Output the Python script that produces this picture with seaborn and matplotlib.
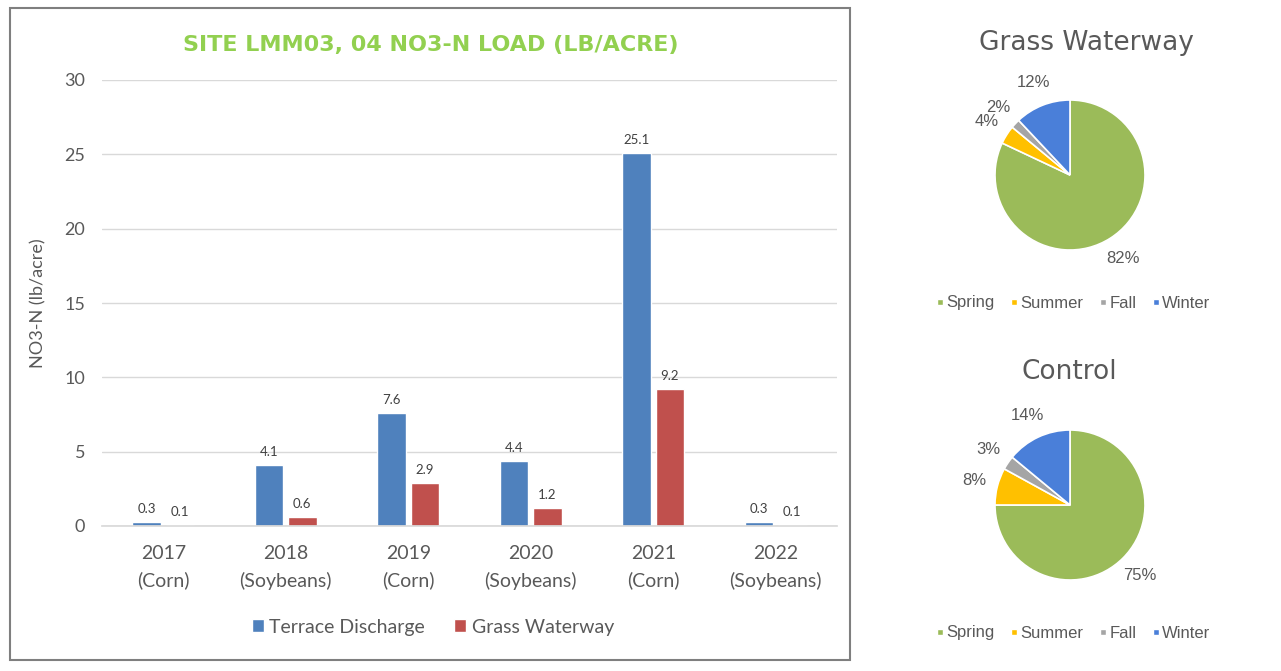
import matplotlib
matplotlib.use("Agg")
import matplotlib.pyplot as plt
import seaborn as sns
import pandas as pd
from matplotlib.patches import Rectangle, Patch
from matplotlib.lines import Line2D

years = ["2017\n(Corn)", "2018\n(Soybeans)", "2019\n(Corn)", "2020\n(Soybeans)", "2021\n(Corn)", "2022\n(Soybeans)"]
terrace = [0.3, 4.1, 7.6, 4.4, 25.1, 0.3]
grass = [0.1, 0.6, 2.9, 1.2, 9.2, 0.1]
series = ["Terrace Discharge", "Grass Waterway"]
yticks = [0, 5, 10, 15, 20, 25, 30]

seasons = ["Spring", "Summer", "Fall", "Winter"]
gw_share = [82, 4, 2, 12]
ctrl_share = [75, 8, 3, 14]

bar_colors = ["#4F81BD", "#C0504D"]
pie_colors = ["#9BBB59", "#FFC000", "#A5A5A5", "#4A7FD9"]

sns.set_theme(style="white")
plt.rcParams["font.family"] = ["Lato", "DejaVu Sans"]

W, H = 1281, 671
fig = plt.figure(figsize=(W / 100, H / 100), dpi=100)

def fx(x):
    return x / W

def fy(y):
    return 1 - y / H

# border box
fig.patches.append(Rectangle((fx(10), fy(660)), fx(850) - fx(10), fy(8) - fy(660),
                             transform=fig.transFigure, fill=False, edgecolor="#7F7F7F", lw=1.5))

df = pd.DataFrame({
    "year": years * 2,
    "value": terrace + grass,
    "series": [series[0]] * len(years) + [series[1]] * len(years),
})

ax = fig.add_axes([fx(102), fy(526), fx(837) - fx(102), fy(80) - fy(526)])
sns.barplot(data=df, x="year", y="value", hue="series", palette=bar_colors,
            width=0.54, gap=0.14, ax=ax, legend=False, saturation=1)
ax.set_xlim(-0.5, 5.5)
ax.set_ylim(0, 30)
ax.set_yticks(yticks)
ax.yaxis.grid(True, color="#D9D9D9", lw=1)
ax.set_axisbelow(True)
for s in ["top", "right", "left"]:
    ax.spines[s].set_visible(False)
ax.spines["bottom"].set_color("#D9D9D9")
ax.tick_params(axis="both", length=0, colors="#595959", labelsize=13)
ax.tick_params(axis="x", pad=14, labelsize=14)
ax.tick_params(axis="y", pad=12)
for t in ax.get_xticklabels():
    t.set_linespacing(1.6)
ax.set_xlabel("")
ax.set_ylabel("NO3-N (lb/acre)", color="#595959", fontsize=13)
ax.yaxis.set_label_coords(-0.075, 0.5)
for c in ax.containers:
    ax.bar_label(c, fmt="%.1f", padding=5, fontsize=9.5, color="#404040")

handles = [Patch(facecolor=bar_colors[i], label=series[i]) for i in range(2)]
fig.legend(handles=handles, loc="center", bbox_to_anchor=(fx(433), fy(627)), ncol=2,
           frameon=False, fontsize=14, handlelength=0.6, handleheight=0.6,
           handletextpad=0.3, columnspacing=1.5, labelcolor="#595959")

fig.text(fx(431), fy(45), "SITE LMM03, 04 NO3-N LOAD (LB/ACRE)", color="#92D050",
         fontsize=16, fontweight="bold", ha="center", va="center",
         family=["DejaVu Sans"])

def draw_pie(cx, cy, shares, title, title_x, title_y, legend_y):
    size = 187.5
    pax = fig.add_axes([fx(cx - size / 2), fy(cy + size / 2), size / W, size / H])
    pax.pie(shares, colors=pie_colors, startangle=90, counterclock=False,
            autopct="%d%%", pctdistance=1.32,
            wedgeprops=dict(edgecolor="white", linewidth=1.2),
            textprops=dict(color="#595959", fontsize=12, family=["Liberation Sans", "DejaVu Sans"]))
    pax.set_xlim(-1.25, 1.25)
    pax.set_ylim(-1.25, 1.25)
    pax.set_aspect("equal")
    fig.text(fx(title_x), fy(title_y), title, ha="center", va="center", fontsize=19,
             color="#595959", family=["DejaVu Sans"])
    lh = [Line2D([], [], marker="s", ls="", markersize=5, markerfacecolor=pie_colors[i],
                 markeredgecolor="white", label=seasons[i]) for i in range(4)]
    fig.legend(handles=lh, loc="center", bbox_to_anchor=(fx(cx + 3), fy(legend_y)), ncol=4,
               frameon=False, handlelength=0.5, handletextpad=0.15,
               columnspacing=0.9, labelcolor="#595959",
               prop=dict(family=["Liberation Sans", "DejaVu Sans"], size=12))

draw_pie(1070, 175, gw_share, "Grass Waterway", 1086, 43, 303)
draw_pie(1070, 505, ctrl_share, "Control", 1069, 372, 633)

fig.savefig("out.png", dpi=100, facecolor="white")
